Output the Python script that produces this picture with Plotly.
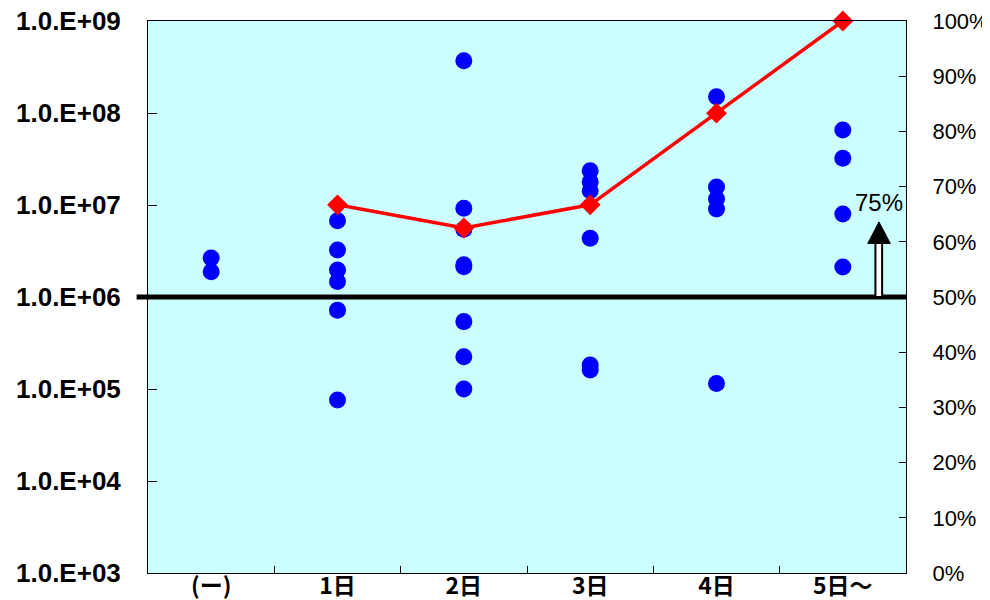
import plotly.graph_objects as go

categories = ["(ー)", "1日", "2日", "3日", "4日", "5日～"]

# scatter values (log axis)
dots_none = [2.65e6, 1.88e6]
dots_d1 = [6.75e6, 3.24e6, 1.96e6, 1.47e6, 7.2e5, 7.6e4]
dots_d2 = [3.7e8, 9.2e6, 5.45e6, 2.24e6, 2.13e6, 5.4e5, 2.24e5, 1.0e5]
dots_d3 = [2.36e7, 1.79e7, 1.43e7, 4.35e6, 1.82e5, 1.61e5]
dots_d4 = [1.5e8, 1.57e7, 1.16e7, 9.05e6, 1.15e5]
dots_d5 = [6.53e7, 3.22e7, 7.98e6, 2.12e6]

# ratio line (right axis, %)
ratio_cats = ["1日", "2日", "3日", "4日", "5日～"]
ratio_vals = [66.7, 62.5, 66.7, 83.3, 100.0]

left_tickvals = [1e3, 1e4, 1e5, 1e6, 1e7, 1e8, 1e9]
left_ticktext = ["1.0.E+03", "1.0.E+04", "1.0.E+05", "1.0.E+06",
                 "1.0.E+07", "1.0.E+08", "1.0.E+09"]
right_tickvals = [0, 10, 20, 30, 40, 50, 60, 70, 80, 90, 100]
right_ticktext = [f"{v}%" for v in right_tickvals]

groups = [dots_none, dots_d1, dots_d2, dots_d3, dots_d4, dots_d5]
xs, ys = [], []
for cat, vals in zip(categories, groups):
    for v in vals:
        xs.append(cat)
        ys.append(v)

fig = go.Figure()
fig.add_trace(go.Scatter(
    x=xs, y=ys, mode="markers",
    marker=dict(color="#0000FF", size=17, line=dict(width=0)),
    showlegend=False, yaxis="y"))
fig.add_trace(go.Scatter(
    x=ratio_cats, y=ratio_vals, mode="lines+markers",
    line=dict(color="#FF0000", width=3.5),
    marker=dict(symbol="diamond", color="#FF0000", size=16, line=dict(width=0)),
    cliponaxis=False, showlegend=False, yaxis="y2"))

# threshold line at 1.0E+06 / 50%
fig.add_shape(type="line", xref="paper", yref="y2", x0=-0.015, x1=1.0,
              y0=50, y1=50, line=dict(color="black", width=5), layer="above")

# arrow (double shaft + head) near 5日～
ax_c = 5 + 0.286
fig.add_shape(type="rect", xref="x", yref="y2",
              x0=5 + 0.258, x1=5 + 0.311, y0=50, y1=59.9,
              line=dict(color="black", width=2), fillcolor="white", layer="above")
fig.add_shape(type="path", xref="x", yref="y2",
              path=f"M {5+0.197} 59.7 L {5+0.376} 59.7 L {ax_c} 63.6 Z",
              line=dict(color="black", width=1), fillcolor="black", layer="above")
fig.add_annotation(x=ax_c, y=67.2, xref="x", yref="y2", text="75%",
                   showarrow=False,
                   font=dict(family="Liberation Sans, Arial", size=24, color="black"))

fig.update_layout(
    width=982, height=592,
    margin=dict(l=140, r=84, t=13, b=27, autoexpand=False),
    paper_bgcolor="white", plot_bgcolor="#CCFFFF",
    xaxis=dict(type="category", categoryorder="array", categoryarray=categories,
               range=[-0.5, 5.5], tickson="boundaries", ticks="inside",
               ticklen=7, tickcolor="black", tickwidth=1, automargin=False,
               showline=True, linecolor="black", linewidth=1, mirror=True,
               showgrid=False, zeroline=False, ticklabeloverflow="allow",
               tickfont=dict(family="Noto Sans CJK JP", size=23, color="black",
                             weight="bold"),
               ticklabelstandoff=-8),
    yaxis=dict(type="log", range=[3, 9], tickvals=left_tickvals,
               ticktext=left_ticktext, ticks="inside", ticklen=9,
               tickcolor="black", showline=True, linecolor="black", linewidth=1,
               showgrid=False, zeroline=False, automargin=False,
               ticklabeloverflow="allow",
               tickfont=dict(family="Liberation Sans, Arial", size=26,
                             color="black", weight="bold"),
               ticklabelstandoff=21),
    yaxis2=dict(overlaying="y", side="right", range=[0, 100],
                tickvals=right_tickvals, ticktext=right_ticktext, ticks="inside",
                ticklen=7, tickcolor="black", showline=True, linecolor="black",
                linewidth=1, showgrid=False, zeroline=False, automargin=False,
                ticklabeloverflow="allow",
                tickfont=dict(family="Liberation Sans, Arial", size=22,
                              color="black"),
                ticklabelstandoff=21),
)

fig.write_html("out.html")
